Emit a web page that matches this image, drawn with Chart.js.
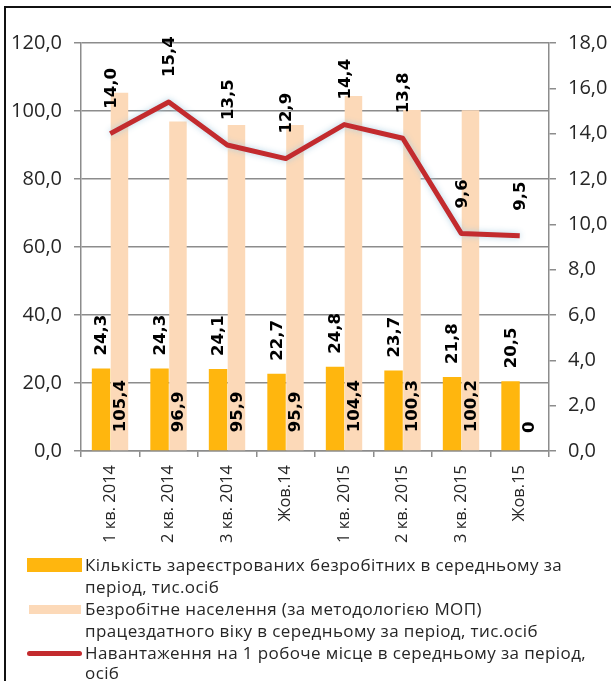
<!DOCTYPE html>
<html><head><meta charset="utf-8">
<script src="https://cdn.jsdelivr.net/npm/chart.js@4/dist/chart.umd.min.js"></script>
<style>
html,body{margin:0;padding:0;background:#fff;width:611px;height:681px;overflow:hidden;font-family:"Open Sans",sans-serif;}
#frame{position:absolute;left:4px;top:6px;width:640px;height:700px;border:2px solid #111;box-sizing:border-box;}
#wrap{position:absolute;left:0;top:0;width:611px;height:555px;}
.leg{position:absolute;left:85px;font-size:17px;letter-spacing:0.4px;line-height:21.5px;color:#262626;white-space:nowrap;}
.sw{position:absolute;}
</style></head>
<body>
<div id="frame"></div>
<div id="wrap"><canvas id="c" width="611" height="555"></canvas></div>
<div class="sw" style="left:27px;width:55px;top:558px;height:14px;background:#FFB60E"></div>
<div class="leg" style="top:554px">Кількість зареєстрованих безробітних в середньому за<br>період, тис.осіб</div>
<div class="sw" style="left:29px;width:52px;top:605px;height:9px;background:#FCD9B8"></div>
<div class="leg" style="top:598px">Безробітне населення (за методологією МОП)<br>працездатного віку в середньому за період, тис.осіб</div>
<div class="sw" style="left:27px;width:55px;top:651px;height:5px;background:#C32B2E;border-radius:3px"></div>
<div class="leg" style="top:643px;line-height:20px">Навантаження на 1 робоче місце в середньому за період,<br>осіб</div>
<script>
const categories = ["1 кв. 2014","2 кв. 2014","3 кв. 2014","Жов.14","1 кв. 2015","2 кв. 2015","3 кв. 2015","Жов.15"];
const registered = [24.3, 24.3, 24.1, 22.7, 24.8, 23.7, 21.8, 20.5];
const iloUnemployed = [105.4, 96.9, 95.9, 95.9, 104.4, 100.3, 100.2, 0];
const loadPerVacancy = [14.0, 15.4, 13.5, 12.9, 14.4, 13.8, 9.6, 9.5];
const leftTicks = [0, 20, 40, 60, 80, 100, 120];
const rightTicks = [0, 2, 4, 6, 8, 10, 12, 14, 16, 18];

const fmt = v => v === 0 ? '0' : v.toFixed(1).replace('.', ',');

const glow = {
  id: 'glow',
  beforeDatasetDraw(chart, args) {
    if (args.index === 2) {
      const ctx = chart.ctx; ctx.save();
      ctx.shadowColor = 'rgba(170,205,225,0.9)'; ctx.shadowBlur = 6;
    }
  },
  afterDatasetDraw(chart, args) {
    if (args.index === 2) chart.ctx.restore();
  }
};

const labels = {
  id: 'labels',
  afterDatasetsDraw(chart) {
    const ctx = chart.ctx;
    ctx.save();
    ctx.fillStyle = '#000';
    ctx.font = 'bold 16.5px "DejaVu Sans"';
    ctx.textAlign = 'left'; ctx.textBaseline = 'middle';
    const draw = (x, y, t) => { ctx.save(); ctx.translate(x, y); ctx.rotate(-Math.PI/2); ctx.fillText(t, 0, 0); ctx.restore(); };
    chart.getDatasetMeta(0).data.forEach((el, i) => draw(el.x + 1, el.y - 13, fmt(registered[i])));
    chart.getDatasetMeta(1).data.forEach((el, i) => draw(el.x + 1, el.base - 18, fmt(iloUnemployed[i])));
    chart.getDatasetMeta(2).data.forEach((el, i) => draw(el.x + 1, el.y - 25, fmt(loadPerVacancy[i])));
    ctx.restore();
  }
};

const tickFont = {family: '"Open Sans"', size: 20};
const gridCol = '#8c8c8c';
new Chart(document.getElementById('c'), {
  data: {
    labels: categories,
    datasets: [
      {type: 'bar', data: registered, backgroundColor: '#FFB60E', yAxisID: 'y', order: 2, barPercentage: 1.0, categoryPercentage: 0.63},
      {type: 'bar', data: iloUnemployed, backgroundColor: '#FCD9B8', yAxisID: 'y', order: 2, barPercentage: 0.95, categoryPercentage: 0.63},
      {type: 'line', data: loadPerVacancy, borderColor: '#C32B2E', borderWidth: 5, pointRadius: 0, yAxisID: 'y1', order: 1, tension: 0, borderJoinStyle: 'round'}
    ]
  },
  options: {
    responsive: false, animation: false,
    layout: {padding: {top: 43, left: 0, right: 0, bottom: 0}},
    plugins: {legend: {display: false}, tooltip: {enabled: false}},
    scales: {
      x: {
        offset: true,
        grid: {offset: true, drawOnChartArea: false, color: gridCol, lineWidth: 1.5, tickLength: 6, tickColor: gridCol},
        border: {color: gridCol, width: 1.5},
        ticks: {color: '#262626', font: {family: '"Open Sans"', size: 16.5}, minRotation: 90, maxRotation: 90, padding: 8, autoSkip: false},
        afterFit(s) { s.height = 104; }
      },
      y: {
        position: 'left', min: 0, max: 120,
        afterBuildTicks(s) { s.ticks = leftTicks.map(v => ({value: v})); },
        grid: {color: gridCol, lineWidth: 1.5, tickLength: 7},
        border: {color: gridCol, width: 1.5},
        ticks: {color: '#262626', font: tickFont, padding: 12, callback: v => v.toFixed(1).replace('.', ',')},
        afterFit(s) { s.width = 81; }
      },
      y1: {
        position: 'right', min: 0, max: 18,
        afterBuildTicks(s) { s.ticks = rightTicks.map(v => ({value: v})); },
        grid: {drawOnChartArea: false, color: gridCol, lineWidth: 1.5, tickLength: 7},
        border: {color: gridCol, width: 1.5},
        ticks: {color: '#262626', font: tickFont, padding: 12, callback: v => v.toFixed(1).replace('.', ',')},
        afterFit(s) { s.width = 62; }
      }
    }
  },
  plugins: [glow, labels]
});
</script>
</body></html>
